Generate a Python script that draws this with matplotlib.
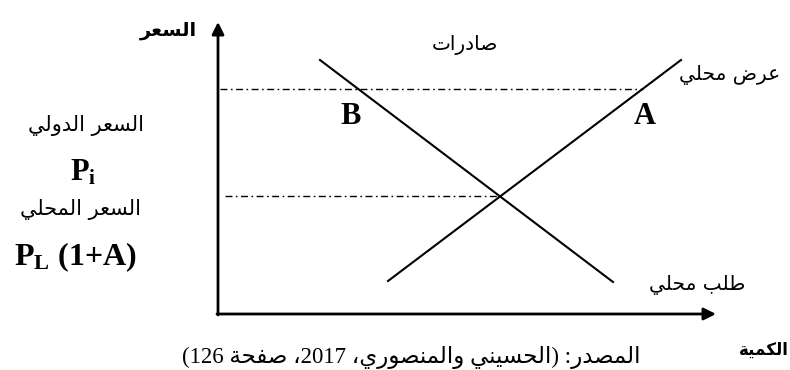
import re
import matplotlib
matplotlib.use('Agg')
import matplotlib.pyplot as plt

plt.rcParams['font.family'] = ['Liberation Serif', 'DejaVu Sans']
plt.rcParams['mathtext.fontset'] = 'custom'
plt.rcParams['mathtext.rm'] = 'Liberation Serif:bold'
plt.rcParams['mathtext.bf'] = 'Liberation Serif:bold'
plt.rcParams['mathtext.it'] = 'Liberation Serif:bold'

# curves (quantity, price), origin at the axes corner
demand_q = [102, 395]
demand_p = [254, 32]
supply_q = [170, 463]
supply_p = [33, 254]
world_price = 225      # Pi
world_q_end = 425
local_price = 118      # PL(1+A)
local_q_end = 282

# labels
y_label = 'السعر'
x_label = 'الكمية'
world_label = 'السعر الدولي'
local_label = 'السعر المحلي'
exports_label = 'صادرات'
supply_label = 'عرض محلي'
demand_label = 'طلب محلي'
source_label = 'المصدر: (الحسيني والمنصوري، 2017، صفحة 126)'

# isolated presentation form + does the letter join to the following one
AR = {
    'ا': (0xFE8D, False), 'ب': (0xFE8F, True), 'ة': (0xFE93, False), 'ت': (0xFE95, True),
    'ث': (0xFE99, True), 'ج': (0xFE9D, True), 'ح': (0xFEA1, True), 'خ': (0xFEA5, True),
    'د': (0xFEA9, False), 'ذ': (0xFEAB, False), 'ر': (0xFEAD, False), 'ز': (0xFEAF, False),
    'س': (0xFEB1, True), 'ش': (0xFEB5, True), 'ص': (0xFEB9, True), 'ض': (0xFEBD, True),
    'ط': (0xFEC1, True), 'ظ': (0xFEC5, True), 'ع': (0xFEC9, True), 'غ': (0xFECD, True),
    'ف': (0xFED1, True), 'ق': (0xFED5, True), 'ك': (0xFED9, True), 'ل': (0xFEDD, True),
    'م': (0xFEE1, True), 'ن': (0xFEE5, True), 'ه': (0xFEE9, True), 'و': (0xFEED, False),
    'ى': (0xFEEF, False), 'ي': (0xFEF1, True),
}


def ar(text):
    # matplotlib does no arabic shaping, so pick the joined forms by hand
    out = []
    for i, ch in enumerate(text):
        if ch not in AR:
            out.append(ch)
            continue
        base, dual = AR[ch]
        prev = text[i - 1] if i > 0 else ''
        nxt = text[i + 1] if i + 1 < len(text) else ''
        jp = prev in AR and AR[prev][1]
        jn = dual and nxt in AR
        off = 3 if (jp and jn) else 2 if jn else 1 if jp else 0
        out.append(chr(base + off))
    vis = ''.join(out)[::-1]
    vis = re.sub(r'[0-9]+', lambda m: m.group(0)[::-1], vis)
    return vis.translate(str.maketrans('()', ')('))


fig = plt.figure(figsize=(7.9, 3.7), dpi=100)
ax = fig.add_axes([0, 0, 1, 1])
ax.set_xlim(-218, 572)
ax.set_ylim(-56, 314)
ax.axis('off')

# axes with arrows
arrow = dict(arrowstyle='-|>', lw=2, color='black', mutation_scale=18, shrinkA=0, shrinkB=0)
ax.annotate('', xy=(0, 292), xytext=(0, -1), arrowprops=arrow)
ax.annotate('', xy=(498, 0), xytext=(-1, 0), arrowprops=arrow)

ax.plot(demand_q, demand_p, color='black', lw=1.5)
ax.plot(supply_q, supply_p, color='black', lw=1.5)
ax.plot([2, world_q_end], [world_price, world_price], color='black', lw=1,
        dashes=(5, 2.5, 1.2, 2.5))
ax.plot([7, local_q_end], [local_price, local_price], color='black', lw=1,
        dashes=(5, 2.5, 1.2, 2.5))

arab = ['DejaVu Sans']
ax.text(-21, 284, ar(y_label), ha='right', va='center', fontsize=14, fontweight='bold', family=arab)
ax.text(546, -36, ar(x_label), ha='center', va='center', fontsize=12, fontweight='bold', family=arab)
ax.text(-132, 188, ar(world_label), ha='center', va='center', fontsize=15, family=arab)
ax.text(-135, 141, r'$\mathbf{P_i}$', ha='center', va='center', fontsize=22)
ax.text(-138, 105, ar(local_label), ha='center', va='center', fontsize=15, family=arab)
ax.text(-143, 57, r'$\mathbf{P_L}$' + ' (1+A)', ha='center', va='center', fontsize=23,
        fontweight='bold')
ax.text(247, 269, ar(exports_label), ha='center', va='center', fontsize=14.5, family=arab)
ax.text(512, 239, ar(supply_label), ha='center', va='center', fontsize=14.5, family=arab)
ax.text(479, 29, ar(demand_label), ha='center', va='center', fontsize=14.5, family=arab)
ax.text(133, 197, 'B', ha='center', va='center', fontsize=22, fontweight='bold')
ax.text(427, 197, 'A', ha='center', va='center', fontsize=22, fontweight='bold')
ax.text(193, -55, ar(source_label), ha='center', va='bottom', fontsize=16.5,
        family=['Liberation Serif', 'DejaVu Sans'])

fig.savefig('out.png', dpi=100)
